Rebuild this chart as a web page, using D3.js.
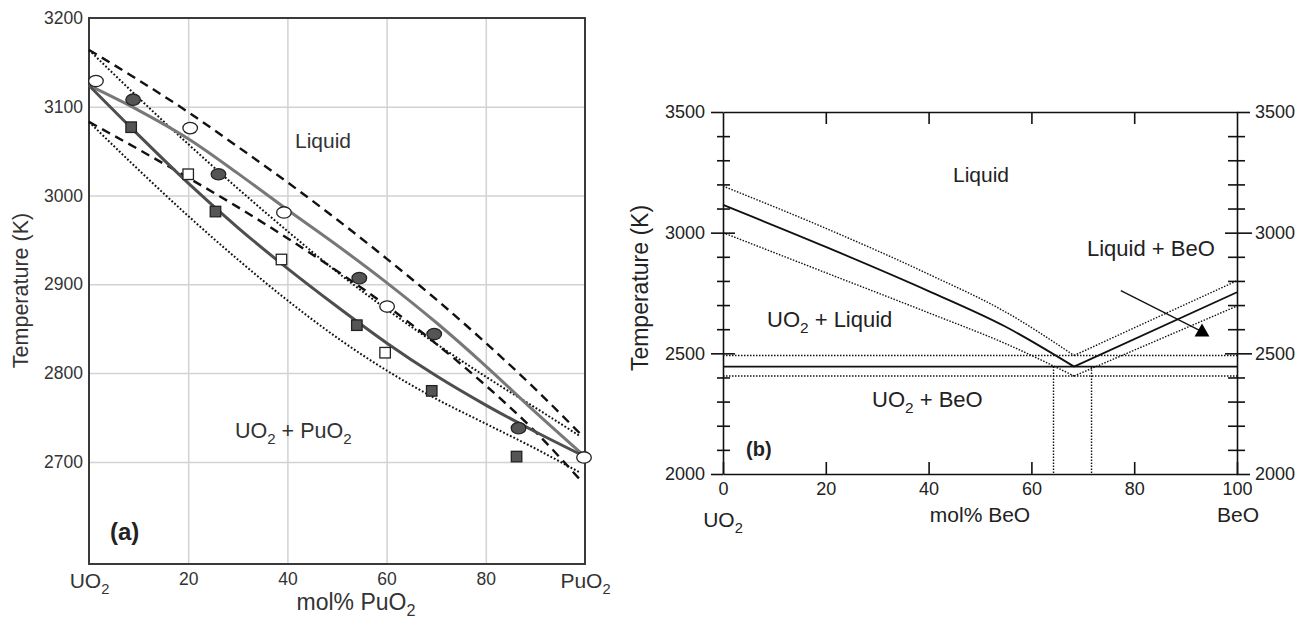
<!DOCTYPE html>
<html>
<head>
<meta charset="utf-8">
<title>UO2–PuO2 and UO2–BeO phase diagrams</title>
<script src="https://cdn.jsdelivr.net/npm/d3@7/dist/d3.min.js"></script>
<style>
  html, body { margin: 0; padding: 0; background: #fff; }
  svg { display: block; }
</style>
</head>
<body>
<svg id="chart" width="1309" height="622"></svg>
<script>
// ---------- Panel (a): UO2–PuO2 ----------
const xTicksA = [0, 20, 40, 60, 80, 100];
const xTickLabelsA = ["UO2", "20", "40", "60", "80", "PuO2"];
const yTicksA = [2700, 2800, 2900, 3000, 3100, 3200];
const gridXA = [20, 40, 60, 80];
const gridYA = [2700, 2800, 2900, 3000, 3100];

// liquidus and solidus (mol% PuO2, K)
const curveCompA = [0, 10, 20, 30, 40, 50, 60, 70, 80, 90, 100];
const liquidusA = [3124, 3096, 3064, 3025, 2984, 2944, 2902, 2857, 2808, 2756, 2706];
const solidusA  = [3124, 3068, 3014, 2964, 2918, 2875, 2834, 2797, 2764, 2734, 2706];

// uncertainty envelopes
const envCompA = [0, 10, 20, 30, 40, 50, 60, 70, 80, 90, 99];
const upperDashedA = [3164, 3130, 3094, 3055, 3015, 2973, 2929, 2883, 2834, 2782, 2732];
const upperDottedA = [3164, 3110, 3058, 3008, 2960, 2914, 2872, 2833, 2796, 2761, 2729];
const lowerDashedA = [3083, 3052, 3020, 2987, 2952, 2915, 2876, 2833, 2786, 2734, 2680];
const lowerDottedA = [3083, 3029, 2977, 2928, 2882, 2840, 2803, 2771, 2743, 2715, 2688];

// measured points
const openCircleX   = [1.4, 20.4, 39.3, 60.1, 99.8];
const openCircleT   = [3129, 3076, 2981, 2875, 2705];
const filledCircleX = [8.9, 26.1, 54.5, 69.6, 86.6];
const filledCircleT = [3108, 3024, 2907, 2844, 2738];
const filledSquareX = [8.5, 25.5, 54.0, 69.1, 86.2];
const filledSquareT = [3077, 2982, 2854, 2780, 2706];
const openSquareX   = [20.0, 38.8, 59.7];
const openSquareT   = [3024, 2928, 2823];

// ---------- Panel (b): UO2–BeO ----------
const xTicksB = [0, 20, 40, 60, 80, 100];
const innerXTicksB = [20, 40, 60, 80];
const yTicksB = [2000, 2100, 2200, 2300, 2400, 2500, 2600, 2700, 2800, 2900, 3000, 3100, 3200, 3300, 3400, 3500];
const yLabelsB = [2000, 2500, 3000, 3500];
const yEndsB = [2000, 3500];
const yMajorB = [2500, 3000];

const leftCompB = [0, 20, 40, 55, 68.3];
const liquidusLeftB = [3115, 2941, 2758, 2610, 2445];
const upperLeftB    = [3193, 3018, 2828, 2671, 2491];
const lowerLeftB    = [3000, 2834, 2668, 2540, 2406];
const rightCompB = [68.3, 100];
const liquidusRightB = [2445, 2753];
const upperRightB    = [2491, 2801];
const lowerRightB    = [2406, 2696];
const eutecticB = 2445;
const eutecticBandB = [2491, 2406];
const eutecticCompBandB = [64.3, 71.7];
const arrowXB = [77.4, 93.0];
const arrowTB = [2760, 2592];

// ---------- drawing ----------
const FONT = '"Liberation Sans", Arial, Helvetica, sans-serif';
const svg = d3.select("#chart").attr("font-family", FONT);
const pairs = (xs, ys) => xs.map((x, i) => [x, ys[i]]);

// formula text with subscript 2 after O
function chem(sel, s, fs) {
  sel.text(null);
  const parts = s.split(/(?<=O)(2)/);
  let shifted = false;
  parts.forEach((p, i) => {
    if (!p) return;
    const t = sel.append("tspan").text(p);
    if (i % 2) { t.attr("font-size", fs * 0.7).attr("dy", fs * 0.28); shifted = true; }
    else if (shifted) { t.attr("dy", -fs * 0.28); shifted = false; }
  });
}
function label(x, y, s, fs, opts = {}) {
  const t = svg.append("text").attr("x", x).attr("y", y)
    .attr("font-size", fs).attr("fill", opts.fill || "#222")
    .attr("text-anchor", opts.anchor || "start")
    .attr("font-weight", opts.weight || "normal");
  if (opts.transform) t.attr("transform", opts.transform);
  chem(t, s, fs);
  return t;
}

// ===== panel (a) =====
const xA = d3.scaleLinear().domain([0, 100]).range([89, 585]);
const yA = d3.scaleLinear().domain([2585, 3200]).range([564, 18]);
const gA = svg.append("g");

// grid
gA.append("g").attr("transform", `translate(0,${yA.range()[0]})`)
  .call(d3.axisBottom(xA).tickValues(gridXA).tickSize(-(yA.range()[0] - yA.range()[1])).tickFormat(""))
  .call(g => g.select(".domain").remove())
  .call(g => g.selectAll(".tick line").attr("stroke", "#d2d2d2").attr("stroke-width", 1.5));
gA.append("g").attr("transform", `translate(${xA.range()[0]},0)`)
  .call(d3.axisLeft(yA).tickValues(gridYA).tickSize(-(xA.range()[1] - xA.range()[0])).tickFormat(""))
  .call(g => g.select(".domain").remove())
  .call(g => g.selectAll(".tick line").attr("stroke", "#d2d2d2").attr("stroke-width", 1.5));

// tick labels
gA.append("g").attr("transform", `translate(${xA.range()[0]},0)`)
  .call(d3.axisLeft(yA).tickValues(yTicksA).tickSize(0).tickPadding(6).tickFormat(d3.format("d")))
  .call(g => g.select(".domain").remove())
  .attr("font-family", FONT).attr("font-size", 17.5).attr("color", "#333");
gA.append("g").attr("transform", `translate(0,${yA.range()[0]})`)
  .call(d3.axisBottom(xA).tickValues(xTicksA).tickSize(0).tickPadding(9)
    .tickFormat((d, i) => xTickLabelsA[i]))
  .call(g => g.select(".domain").remove())
  .attr("font-family", FONT).attr("font-size", 17.5).attr("color", "#333")
  .call(g => g.selectAll(".tick text").filter(d => d === 0 || d === 100)
    .attr("font-size", 21)
    .each(function (d) { chem(d3.select(this), xTickLabelsA[xTicksA.indexOf(d)], 21); }));

// frame
gA.append("rect").attr("x", xA(0)).attr("y", yA(3200))
  .attr("width", xA(100) - xA(0)).attr("height", yA(2585) - yA(3200))
  .attr("fill", "none").attr("stroke", "#3a3a3a").attr("stroke-width", 2);

// curves
const lineA = d3.line().x(d => xA(d[0])).y(d => yA(d[1])).curve(d3.curveMonotoneX);
const dashed = { stroke: "#111", width: 2.4, dash: "9,6" };
const dotted = { stroke: "#111", width: 2, dash: "1.8,2" };
function pathA(xs, ys, st) {
  gA.append("path").attr("d", lineA(pairs(xs, ys))).attr("fill", "none")
    .attr("stroke", st.stroke).attr("stroke-width", st.width)
    .attr("stroke-dasharray", st.dash || null).attr("stroke-linecap", "butt");
}
pathA(envCompA, upperDottedA, dotted);
pathA(envCompA, lowerDottedA, dotted);
pathA(envCompA, upperDashedA, dashed);
pathA(envCompA, lowerDashedA, dashed);
pathA(curveCompA, liquidusA, { stroke: "#787878", width: 3 });
pathA(curveCompA, solidusA, { stroke: "#4e4e4e", width: 3 });

// markers
function ellipses(xs, ys, fill) {
  gA.append("g").selectAll("ellipse").data(pairs(xs, ys)).join("ellipse")
    .attr("cx", d => xA(d[0])).attr("cy", d => yA(d[1]))
    .attr("rx", 7.3).attr("ry", 5.7)
    .attr("fill", fill).attr("stroke", "#222").attr("stroke-width", 1.3);
}
function squares(xs, ys, fill) {
  const s = 10.5;
  gA.append("g").selectAll("rect").data(pairs(xs, ys)).join("rect")
    .attr("x", d => xA(d[0]) - s / 2).attr("y", d => yA(d[1]) - s / 2)
    .attr("width", s).attr("height", s)
    .attr("fill", fill).attr("stroke", "#222").attr("stroke-width", 1.3);
}
squares(filledSquareX, filledSquareT, "#555");
squares(openSquareX, openSquareT, "#fff");
ellipses(filledCircleX, filledCircleT, "#555");
ellipses(openCircleX, openCircleT, "#fff");

// titles and region labels
label(28, 0, "Temperature (K)", 21.5, { anchor: "middle", fill: "#333", transform: "translate(0,290.5) rotate(-90,28,0)" });
label(356, 610, "mol% PuO2", 23, { anchor: "middle", fill: "#333" });
label(295, 148, "Liquid", 21, { fill: "#333" });
label(235, 438, "UO2 + PuO2", 21.5, { fill: "#333" });
label(110, 540, "(a)", 24, { weight: "bold", fill: "#222" });

// ===== panel (b) =====
const xB = d3.scaleLinear().domain([0, 100]).range([723, 1237]);
const yB = d3.scaleLinear().domain([2000, 3500]).range([474, 112]);
const gB = svg.append("g");
const axStroke = g => g.selectAll("path, line").attr("stroke", "#111").attr("stroke-width", 1.6);

// bottom axis with inward ticks
gB.append("g").attr("transform", `translate(0,${yB(2000)})`)
  .call(d3.axisBottom(xB).tickValues(xTicksB).tickSizeInner(-12).tickSizeOuter(0).tickPadding(8))
  .attr("font-family", FONT).attr("font-size", 18).attr("color", "#222")
  .call(axStroke);
// top axis
gB.append("g").attr("transform", `translate(0,${yB(3500)})`)
  .call(d3.axisTop(xB).tickValues(innerXTicksB).tickSizeInner(-12).tickSizeOuter(0).tickFormat(""))
  .call(axStroke);
// left axis: crossing ticks every 100 K
gB.append("g").attr("transform", `translate(${xB(0)},0)`)
  .call(d3.axisLeft(yB).tickValues(yTicksB).tickSize(0).tickSizeOuter(0).tickPadding(18)
    .tickFormat(d => yLabelsB.includes(d) ? d : ""))
  .attr("font-family", FONT).attr("font-size", 18).attr("color", "#222")
  .call(axStroke)
  .call(g => g.selectAll(".tick line")
    .attr("x1", d => yEndsB.includes(d) ? -12 : yMajorB.includes(d) ? -12 : -6)
    .attr("x2", d => yEndsB.includes(d) ? 0 : yMajorB.includes(d) ? 12 : 7));
// right axis
gB.append("g").attr("transform", `translate(${xB(100)},0)`)
  .call(d3.axisRight(yB).tickValues(yTicksB).tickSize(0).tickSizeOuter(0).tickPadding(18)
    .tickFormat(d => yLabelsB.includes(d) ? d : ""))
  .attr("font-family", FONT).attr("font-size", 18).attr("color", "#222")
  .call(axStroke)
  .call(g => g.selectAll(".tick line")
    .attr("x1", d => yEndsB.includes(d) ? 0 : yMajorB.includes(d) ? -12 : -9)
    .attr("x2", d => yEndsB.includes(d) ? 13 : yMajorB.includes(d) ? 15 : 8));

// phase boundaries
const lineB = d3.line().x(d => xB(d[0])).y(d => yB(d[1]));
const curveB = d3.line().x(d => xB(d[0])).y(d => yB(d[1])).curve(d3.curveMonotoneX);
const solidB = { stroke: "#111", width: 1.8 };
const dottedB = { stroke: "#111", width: 1.4, dash: "1.5,1.5" };
function pathB(gen, pts, st) {
  gB.append("path").attr("d", gen(pts)).attr("fill", "none")
    .attr("stroke", st.stroke).attr("stroke-width", st.width)
    .attr("stroke-dasharray", st.dash || null);
}
pathB(curveB, pairs(leftCompB, liquidusLeftB), solidB);
pathB(curveB, pairs(leftCompB, upperLeftB), dottedB);
pathB(curveB, pairs(leftCompB, lowerLeftB), dottedB);
pathB(lineB, pairs(rightCompB, liquidusRightB), solidB);
pathB(lineB, pairs(rightCompB, upperRightB), dottedB);
pathB(lineB, pairs(rightCompB, lowerRightB), dottedB);
pathB(lineB, [[0, eutecticB], [100, eutecticB]], solidB);
eutecticBandB.forEach(t => pathB(lineB, [[0, t], [100, t]], dottedB));
eutecticCompBandB.forEach(x => pathB(lineB, [[x, eutecticB], [x, 2000]], dottedB));

// arrow to the BeO liquidus
pathB(lineB, pairs(arrowXB, arrowTB), { stroke: "#111", width: 1.3 });
gB.append("path")
  .attr("d", d3.symbol(d3.symbolTriangle, 95)())
  .attr("transform", `translate(${xB(arrowXB[1]) + 1},${yB(arrowTB[1]) + 1})`)
  .attr("fill", "#000");

// titles and region labels
label(648, 0, "Temperature (K)", 23, { anchor: "middle", transform: "translate(0,288) rotate(-90,648,0)" });
label(723, 527, "UO2", 21, { anchor: "middle" });
label(980, 522, "mol% BeO", 21, { anchor: "middle" });
label(1238, 522, "BeO", 21, { anchor: "middle" });
label(953, 182, "Liquid", 21);
label(1087, 256, "Liquid + BeO", 22);
label(767, 327, "UO2 + Liquid", 22);
label(872, 407, "UO2 + BeO", 22);
label(746, 456, "(b)", 20, { weight: "bold" });
</script>
</body>
</html>
